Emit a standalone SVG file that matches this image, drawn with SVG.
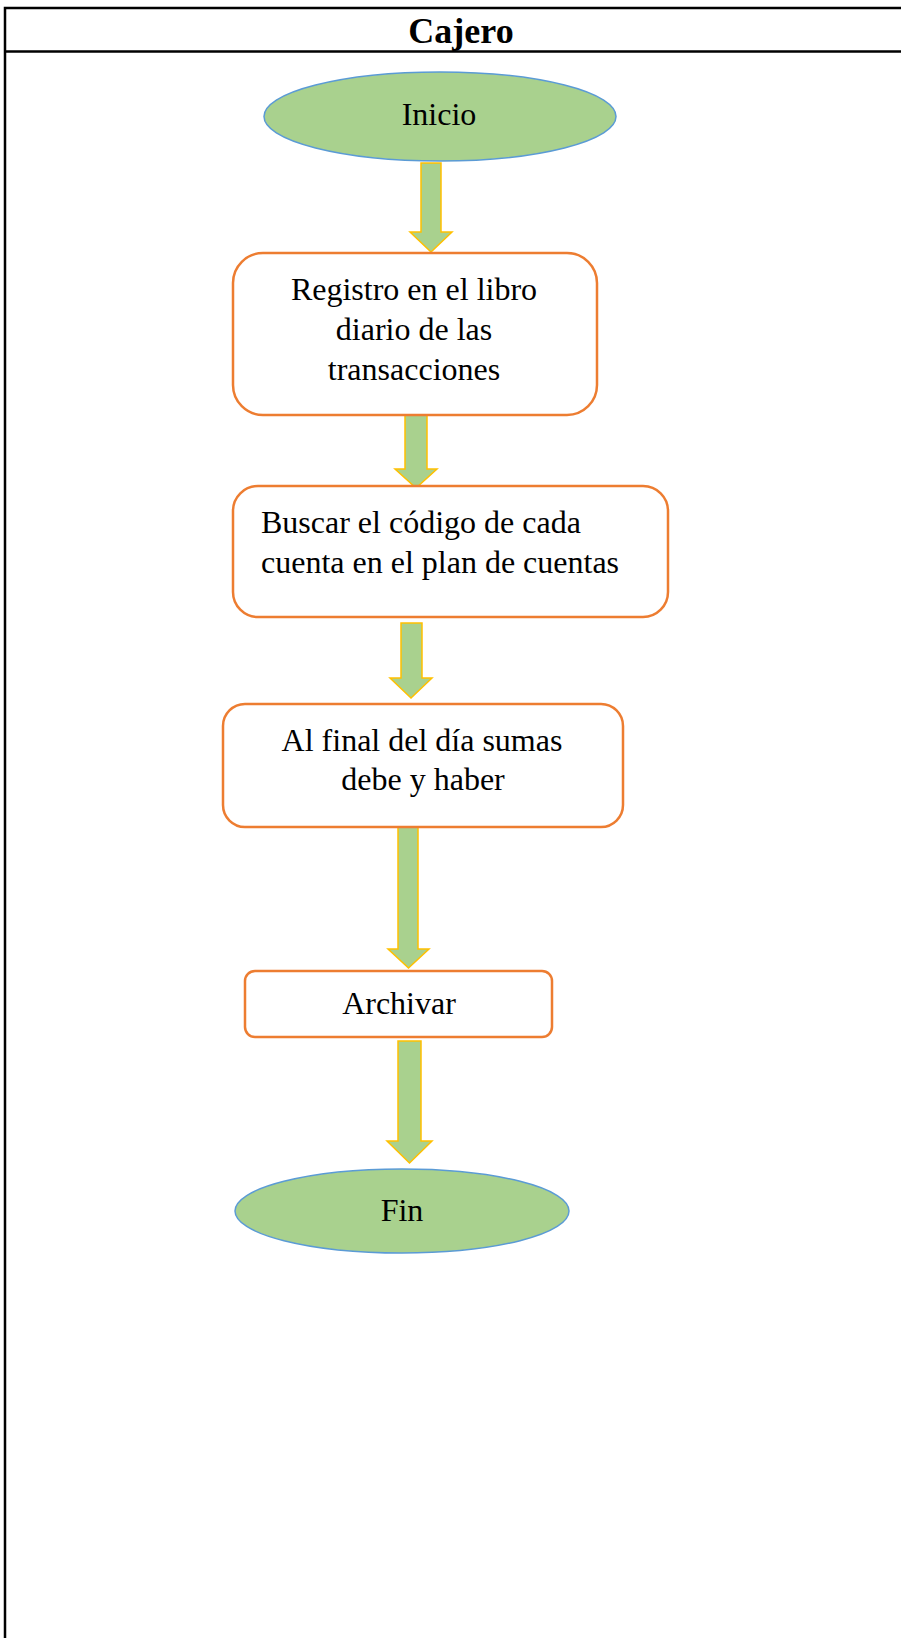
<svg xmlns="http://www.w3.org/2000/svg" width="901" height="1638" viewBox="0 0 901 1638">
<style>
.t{font-family:"Liberation Serif","Times New Roman",serif;font-size:32px;fill:#000}
.c{text-anchor:middle}
.term{fill:#A9D18E;stroke:#5B9BD5;stroke-width:1.5}
.box{fill:#fff;stroke:#ED7D31;stroke-width:2.5}
.arr{fill:#A9D18E;stroke:#FFC000;stroke-width:1.5;stroke-linejoin:miter}
</style>
<rect x="0" y="0" width="901" height="1638" fill="#fff"/>
<g id="frame">
<rect x="5" y="8" width="910" height="1650" fill="none" stroke="#000" stroke-width="2.5"/>
<line x1="5" y1="51.5" x2="910" y2="51.5" stroke="#000" stroke-width="2.5"/>
<text x="461" y="43" class="t c" style="font-size:36px;font-weight:bold">Cajero</text>
</g>
<g id="connectors">
<polygon class="arr" points="421,163 441,163 441,232 452,232 431,252 410,232 421,232"/>
<polygon class="arr" points="405,414 427,414 427,469 437,469 416,488 395,469 405,469"/>
<polygon class="arr" points="401,623 422,623 422,678 432,678 411,698 390,678 401,678"/>
<polygon class="arr" points="398,827 418,827 418,949 429,949 408.5,968 388,949 398,949"/>
<polygon class="arr" points="398,1041 421,1041 421,1141 432,1141 409.5,1163 387,1141 398,1141"/>
</g>
<g id="inicio">
<ellipse class="term" cx="440" cy="116.5" rx="176" ry="44.5"/>
<text x="439" y="125" class="t c">Inicio</text>
</g>
<g id="registro">
<rect class="box" x="233" y="253" width="364" height="162" rx="30"/>
<text x="414" y="300" class="t c">Registro en el libro</text>
<text x="414" y="340" class="t c">diario de las</text>
<text x="414" y="380" class="t c">transacciones</text>
</g>
<g id="buscar">
<rect class="box" x="233" y="486" width="435" height="131" rx="25"/>
<text x="261" y="533" class="t">Buscar el código de cada</text>
<text x="261" y="573" class="t">cuenta en el plan de cuentas</text>
</g>
<g id="final">
<rect class="box" x="223" y="704" width="400" height="123" rx="22"/>
<text x="422" y="751" class="t c">Al final del día sumas</text>
<text x="423" y="790" class="t c">debe y haber</text>
</g>
<g id="archivar">
<rect class="box" x="245" y="971" width="307" height="66" rx="10"/>
<text x="399" y="1014" class="t c">Archivar</text>
</g>
<g id="fin">
<ellipse class="term" cx="402" cy="1211" rx="167" ry="42"/>
<text x="402" y="1221" class="t c">Fin</text>
</g>
</svg>
